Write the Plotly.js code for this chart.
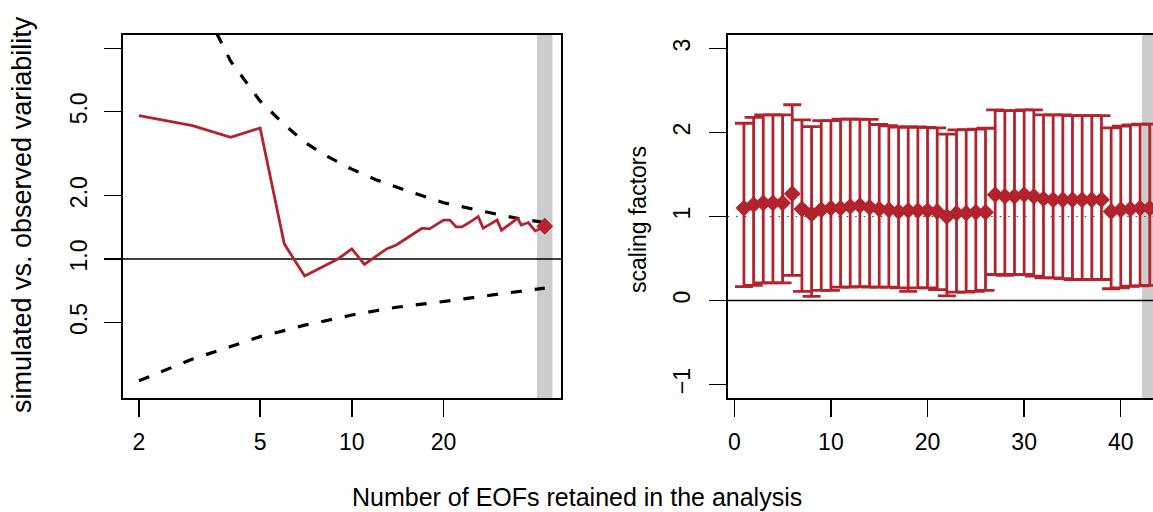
<!DOCTYPE html>
<html>
<head>
<meta charset="utf-8">
<script src="https://cdn.plot.ly/plotly-3.0.1.min.js"></script>
<style>
  html, body { margin: 0; padding: 0; overflow: hidden; background: #ffffff; }
  #chart { width: 1170px; height: 512px; }
</style>
</head>
<body>
<div id="chart"></div>
<script>
// Left panel: ratio of simulated to observed variability vs. EOF truncation
const eofCounts = [2,3,4,5,6,7,8,9,10,11,12,13,14,15,16,17,18,19,20,21,22,23,24,25,26,27,28,29,30,31,32,33,34,35,36,37,38,39,40,41,42,43];
const varianceRatio = [4.79,4.30,3.78,4.19,1.18,0.83,0.916,1.00,1.116,0.944,1.03,1.116,1.166,1.245,1.32,1.40,1.39,1.46,1.53,1.53,1.42,1.42,1.47,1.53,1.59,1.40,1.445,1.49,1.53,1.37,1.42,1.47,1.51,1.56,1.45,1.47,1.49,1.42,1.36,1.38,1.41,1.43];

// Consistency bounds (upper and lower dashed curves)
const upperBoundCounts = [2,3,4,5,6,7,8,9,10,12,15,20,25,30,35,40,43];
const upperBound = [60,20,8.7,5.62,4.35,3.59,3.16,2.88,2.67,2.38,2.12,1.85,1.72,1.63,1.56,1.51,1.49];
const lowerBoundCounts = [2,3,4,5,6,7,8,10,12,14,17,20,25,29,35,43];
const lowerBound = [0.264,0.335,0.384,0.428,0.457,0.485,0.505,0.542,0.568,0.59,0.61,0.627,0.655,0.675,0.70,0.728];

// Selected truncation
const chosenCount = 43;

// Right panel: scaling factors with confidence ranges
const sfCounts = [1,2,3,4,5,6,7,8,9,10,11,12,13,14,15,16,17,18,19,20,21,22,23,24,25,26,27,28,29,30,31,32,33,34,35,36,37,38,39,40,41,42,43];
const sfBest = [1.10,1.14,1.16,1.16,1.16,1.27,1.09,1.03,1.08,1.10,1.10,1.12,1.13,1.11,1.09,1.08,1.06,1.07,1.07,1.07,1.06,1.00,1.04,1.04,1.05,1.05,1.26,1.24,1.24,1.26,1.24,1.21,1.20,1.20,1.20,1.20,1.20,1.20,1.06,1.08,1.09,1.10,1.10];
const sfUpper = [2.11,2.18,2.21,2.21,2.21,2.33,2.15,2.07,2.14,2.14,2.16,2.16,2.16,2.155,2.095,2.08,2.065,2.065,2.065,2.06,2.055,1.98,2.03,2.035,2.04,2.05,2.27,2.26,2.26,2.27,2.27,2.21,2.21,2.21,2.20,2.20,2.20,2.20,2.055,2.075,2.09,2.10,2.10];
const sfLower = [0.165,0.18,0.21,0.21,0.21,0.30,0.11,0.05,0.12,0.12,0.16,0.16,0.165,0.16,0.16,0.16,0.15,0.11,0.15,0.15,0.13,0.055,0.10,0.10,0.11,0.12,0.31,0.30,0.31,0.31,0.29,0.27,0.27,0.26,0.25,0.25,0.25,0.25,0.14,0.15,0.17,0.175,0.18];

// Axis ticks
const leftXTicks = [2, 5, 10, 20];
const leftYTicks = [0.5, 1, 2, 5, 10];
const leftYTickText = ['0.5', '1.0', '2.0', '5.0', ''];
const rightXTicks = [0, 10, 20, 30, 40];
const rightYTicks = [-1, 0, 1, 2, 3];

const RED = '#B2232D';
const FONT = 'Liberation Sans, Arial, Helvetica, sans-serif';
const W = 1170, H = 512;
const px = v => v / W;
const py = v => 1 - v / H;

const lastIdx = eofCounts.indexOf(chosenCount);

const traces = [
  { x: upperBoundCounts, y: upperBound, xaxis: 'x', yaxis: 'y', mode: 'lines',
    line: { color: '#000', width: 3.2, dash: '11px,13px' }, hoverinfo: 'skip' },
  { x: lowerBoundCounts, y: lowerBound, xaxis: 'x', yaxis: 'y', mode: 'lines',
    line: { color: '#000', width: 3.2, dash: '11px,13px' }, hoverinfo: 'skip' },
  { x: eofCounts, y: varianceRatio, xaxis: 'x', yaxis: 'y', mode: 'lines',
    line: { color: RED, width: 2.8 } },
  { x: [eofCounts[lastIdx]], y: [varianceRatio[lastIdx]], xaxis: 'x', yaxis: 'y', mode: 'markers',
    marker: { symbol: 'diamond', size: 13, color: RED } },
  { x: sfCounts, y: sfBest, xaxis: 'x2', yaxis: 'y2', mode: 'markers',
    marker: { symbol: 'diamond', size: 13, color: RED },
    error_y: { type: 'data', symmetric: false,
      array: sfUpper.map((u, i) => u - sfBest[i]),
      arrayminus: sfBest.map((c, i) => c - sfLower[i]),
      color: RED, thickness: 2.8, width: 9 } }
];

const axisCommon = {
  showgrid: false, zeroline: false, showline: true, mirror: true,
  linecolor: '#000', linewidth: 1.6, ticks: 'outside', ticklen: 17,
  tickwidth: 1.4, tickcolor: '#000',
  tickfont: { family: FONT, size: 23, color: '#000' }
};

const layout = {
  width: W, height: H,
  margin: { l: 0, r: 0, t: 0, b: 0 },
  paper_bgcolor: '#fff', plot_bgcolor: '#fff',
  showlegend: false,
  xaxis: Object.assign({}, axisCommon, {
    domain: [px(122.7), px(561)], type: 'log', range: [0.2477, 1.6868],
    tickvals: leftXTicks, ticktext: leftXTicks.map(String), anchor: 'y',
    ticklabelstandoff: 6
  }),
  yaxis: Object.assign({}, axisCommon, {
    domain: [py(398), py(35)], type: 'log', range: [-0.660, 1.0636],
    tickvals: leftYTicks, ticktext: leftYTickText, tickangle: -90, anchor: 'x',
    ticklabelstandoff: 8
  }),
  xaxis2: Object.assign({}, axisCommon, {
    domain: [px(727.7), px(1166)], range: [-0.68, 44.68],
    tickvals: rightXTicks, anchor: 'y2', ticklabelstandoff: 6
  }),
  yaxis2: Object.assign({}, axisCommon, {
    domain: [py(398), py(35)], range: [-1.16, 3.16],
    tickvals: rightYTicks, tickangle: -90, anchor: 'x2', ticklabelstandoff: 10
  }),
  shapes: [
    { type: 'line', xref: 'x', yref: 'y domain', x0: chosenCount, x1: chosenCount,
      y0: 0, y1: 1, layer: 'below', line: { color: '#CCCCCC', width: 15.4 } },
    { type: 'line', xref: 'x domain', yref: 'y', x0: 0, x1: 1, y0: 1, y1: 1,
      layer: 'below', line: { color: '#000', width: 1.4 } },
    { type: 'line', xref: 'x2', yref: 'y2 domain', x0: chosenCount, x1: chosenCount,
      y0: 0, y1: 1, layer: 'below', line: { color: '#CCCCCC', width: 15.4 } },
    { type: 'line', xref: 'x2 domain', yref: 'y2', x0: 0, x1: 1, y0: 1, y1: 1,
      layer: 'below', line: { color: '#444', width: 1.2, dash: '1.5px,7px' } },
    { type: 'line', xref: 'x2 domain', yref: 'y2', x0: 0, x1: 1, y0: 0, y1: 0,
      layer: 'below', line: { color: '#000', width: 1.4 } }
  ],
  annotations: [
    { text: 'simulated vs. observed variability', xref: 'paper', yref: 'paper',
      x: px(22), y: py(215), showarrow: false, textangle: -90,
      xanchor: 'center', yanchor: 'middle', font: { family: FONT, size: 27, color: '#000' } },
    { text: 'scaling factors', xref: 'paper', yref: 'paper',
      x: px(638), y: py(219), showarrow: false, textangle: -90,
      xanchor: 'center', yanchor: 'middle', font: { family: FONT, size: 23, color: '#000' } },
    { text: 'Number of EOFs retained in the analysis', xref: 'paper', yref: 'paper',
      x: px(576.5), y: py(497), showarrow: false,
      xanchor: 'center', yanchor: 'middle', font: { family: FONT, size: 25, color: '#000' } }
  ]
};

Plotly.newPlot('chart', traces, layout, { staticPlot: true, displayModeBar: false });
</script>
</body>
</html>
